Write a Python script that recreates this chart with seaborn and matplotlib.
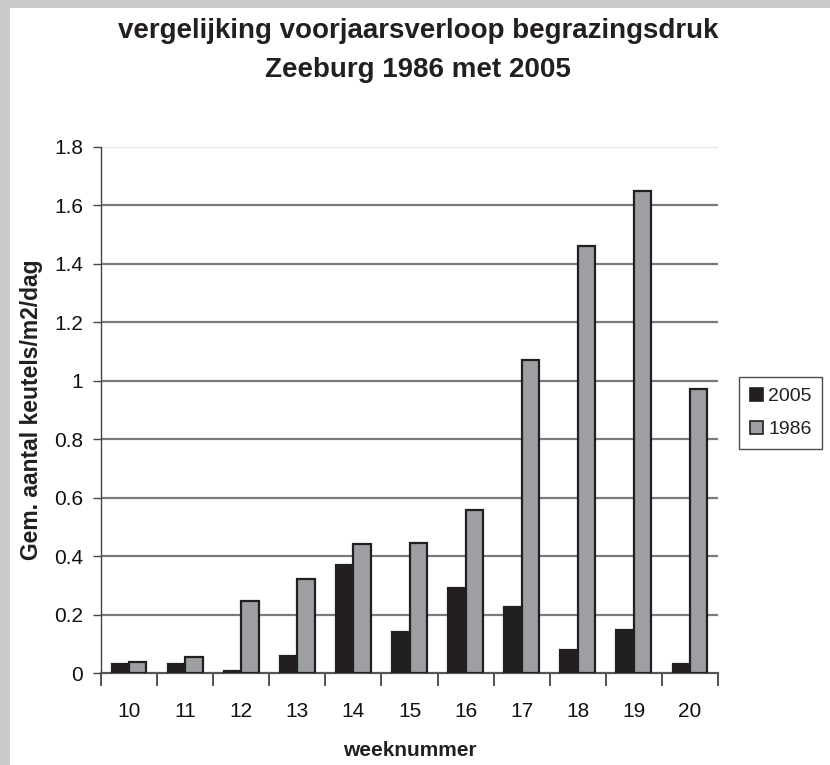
import matplotlib
matplotlib.use("Agg")
import matplotlib.pyplot as plt
import seaborn as sns
import pandas as pd
import numpy as np
from matplotlib.patches import Rectangle

weeks = ["10", "11", "12", "13", "14", "15", "16", "17", "18", "19", "20"]
vals_2005 = [0.033, 0.033, 0.007, 0.059, 0.371, 0.142, 0.293, 0.228, 0.078, 0.149, 0.033]
vals_1986 = [0.040, 0.057, 0.246, 0.323, 0.441, 0.447, 0.557, 1.073, 1.461, 1.648, 0.973]
series = ["2005", "1986"]
yticks = [0, 0.2, 0.4, 0.6, 0.8, 1.0, 1.2, 1.4, 1.6, 1.8]

title = "vergelijking voorjaarsverloop begrazingsdruk\nZeeburg 1986 met 2005"
xlabel = "weeknummer"
ylabel = "Gem. aantal keutels/m2/dag"

df = pd.DataFrame({
    "week": weeks * 2,
    "jaar": ["2005"] * len(weeks) + ["1986"] * len(weeks),
    "waarde": vals_2005 + vals_1986,
})

sns.set_theme(style="white")
plt.rcParams["font.family"] = ["Liberation Sans", "DejaVu Sans"]

W, H = 830, 765
fig = plt.figure(figsize=(W / 100, H / 100), dpi=100)
fig.patch.set_facecolor("#cbcbcb")
fig.patches.append(Rectangle((10 / W, 0), 1, 1 - 8 / H, transform=fig.transFigure,
                             facecolor="white", edgecolor="none", zorder=-10))

ax = fig.add_axes([101 / W, 1 - 673.3 / H, (718 - 101) / W, (673.3 - 147) / H])
ax.set_zorder(2)
ax.set_facecolor("white")

colors = {"2005": "#231f20", "1986": "#9d9fa2"}
sns.barplot(data=df, x="week", y="waarde", hue="jaar", hue_order=series,
            order=weeks, palette=colors, width=0.62, ax=ax,
            edgecolor="#231f20", linewidth=1.6, saturation=1, legend=False, zorder=3)

ax.set_ylim(0, 1.8)
ax.set_xlim(-0.5, len(weeks) - 0.5)
ax.set_yticks(yticks)
ax.set_yticklabels([f"{v:g}" for v in yticks])

ax.yaxis.grid(True, color="#7a7a7a", linewidth=1.6, zorder=1)
ax.set_axisbelow(True)
ax.get_ygridlines()[-1].set_color("#e4e4e4")
ax.get_ygridlines()[0].set_visible(False)

for side in ["top", "right"]:
    ax.spines[side].set_visible(False)
ax.spines["left"].set_color("#444444")
ax.spines["left"].set_linewidth(1.0)
ax.spines["bottom"].set_color("#555555")
ax.spines["bottom"].set_linewidth(1.6)

ax.tick_params(axis="y", which="major", direction="out", length=6, width=1,
               color="#444444", labelsize=15, labelcolor="#111111", pad=7, left=True)
ax.tick_params(axis="x", which="major", length=0, labelsize=15, labelcolor="#111111", pad=21)
ax.set_xticks(np.arange(-0.5, len(weeks)), minor=True)
ax.tick_params(axis="x", which="minor", direction="out", length=9, width=1.2,
               color="#333333", bottom=True)

ax.set_xlabel(xlabel, fontsize=15, fontweight="bold", color="#231f20", labelpad=14)
ax.set_ylabel(ylabel, fontsize=16.5, fontweight="bold", color="#231f20", labelpad=8)

fig.text(418 / W, 1 - 50.5 / H, title, ha="center", va="center", fontsize=20,
         fontweight="bold", color="#231f20", linespacing=1.62)

handles = [
    Rectangle((0, 0), 1, 1, facecolor=colors["2005"], edgecolor="#231f20", linewidth=1.2),
    Rectangle((0, 0), 1, 1, facecolor=colors["1986"], edgecolor="#231f20", linewidth=1.2),
]
leg = fig.legend(handles, series, loc="lower left",
                 bbox_to_anchor=(739 / W, 1 - 449 / H), fontsize=14,
                 frameon=True, fancybox=False, handlelength=0.7, handleheight=0.7,
                 handletextpad=0.25, borderpad=0.55, labelspacing=0.8, borderaxespad=0)
leg.get_frame().set_edgecolor("#231f20")
leg.get_frame().set_linewidth(1.0)
for t in leg.get_texts():
    t.set_color("#231f20")

fig.savefig("out.png", dpi=100, facecolor=fig.get_facecolor())
